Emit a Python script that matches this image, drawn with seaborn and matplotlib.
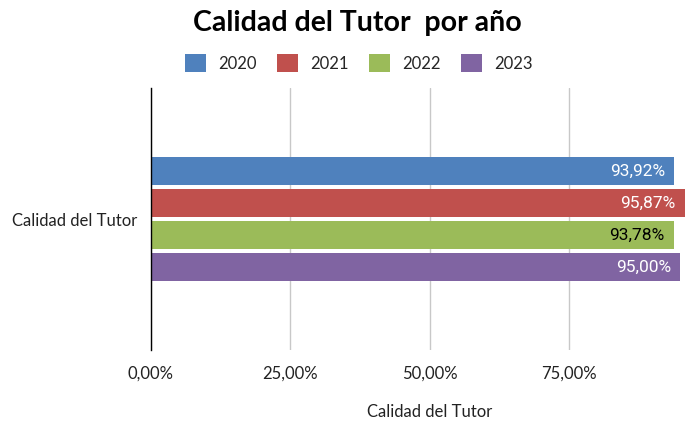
import matplotlib
matplotlib.use("Agg")
import matplotlib.pyplot as plt
import seaborn as sns
import pandas as pd
from matplotlib.patches import Patch

categories = ["Calidad del Tutor"]
years = ["2020", "2021", "2022", "2023"]
values = [0.9392, 0.9587, 0.9378, 0.9500]
labels = ["93,92%", "95,87%", "93,78%", "95,00%"]
colors = ["#4F81BD", "#C0504D", "#9BBB59", "#8064A2"]
label_colors = ["white", "white", "black", "white"]
xticks = [0, 0.25, 0.5, 0.75]
xticklabels = ["0,00%", "25,00%", "50,00%", "75,00%"]

df = pd.DataFrame({"cat": categories * len(years), "year": years, "val": values})

sns.set_style("white")
plt.rcParams["font.family"] = ["Lato", "DejaVu Sans"]

fig = plt.figure(figsize=(6.94, 4.23), dpi=100)
ax = fig.add_axes([151 / 694, 1 - 350 / 423, 1 - 151 / 694, 262 / 423])

sns.barplot(data=df, x="val", y="cat", hue="year", hue_order=years,
            palette=colors, saturation=1, orient="h", width=0.49, gap=0.12,
            edgecolor="none", legend=False, ax=ax)

ax.set_xlim(0, 543 / 557.3)
ax.set_ylim(0.5, -0.5)
ax.set_xticks(xticks)
ax.set_xticklabels(xticklabels, fontsize=12, color="#222222")
ax.tick_params(axis="x", length=0, pad=11)
ax.tick_params(axis="y", length=0, pad=10)
ax.set_yticks([0])
ax.set_yticklabels(categories, fontsize=12, color="#222222")
ax.set_xlabel("")
ax.set_ylabel("")
ax.grid(axis="x", color="#C8C8C8", linewidth=1)
ax.set_axisbelow(True)
for s in ["top", "right", "bottom"]:
    ax.spines[s].set_visible(False)
ax.spines["left"].set_color("black")
ax.spines["left"].set_linewidth(1)

# data labels
for cont, lab, lc in zip(ax.containers, labels, label_colors):
    for rect in cont:
        w = rect.get_width()
        yc = rect.get_y() + rect.get_height() / 2
        ax.text(w - 0.017, yc, lab, ha="right", va="center", color=lc,
                fontsize=12.5, family=["Roboto", "DejaVu Sans"])

# title
fig.text(357 / 694, 1 - 23 / 423, "Calidad del Tutor  por año", ha="center", va="center",
         fontsize=20.5, fontweight="bold", color="black")

# legend
handles = [Patch(facecolor=c, edgecolor="none") for c in colors]
fig.legend(handles, years, loc="center", bbox_to_anchor=(359 / 694, 1 - 63 / 423),
           ncol=4, frameon=False, fontsize=12, handlelength=1.25, handleheight=1.25,
           columnspacing=1.2, handletextpad=0.75)

# x axis title
fig.text(430 / 694, 1 - 412 / 423, "Calidad del Tutor", ha="center", va="center",
         fontsize=12, color="#222222")

fig.savefig("out.png", dpi=100)
